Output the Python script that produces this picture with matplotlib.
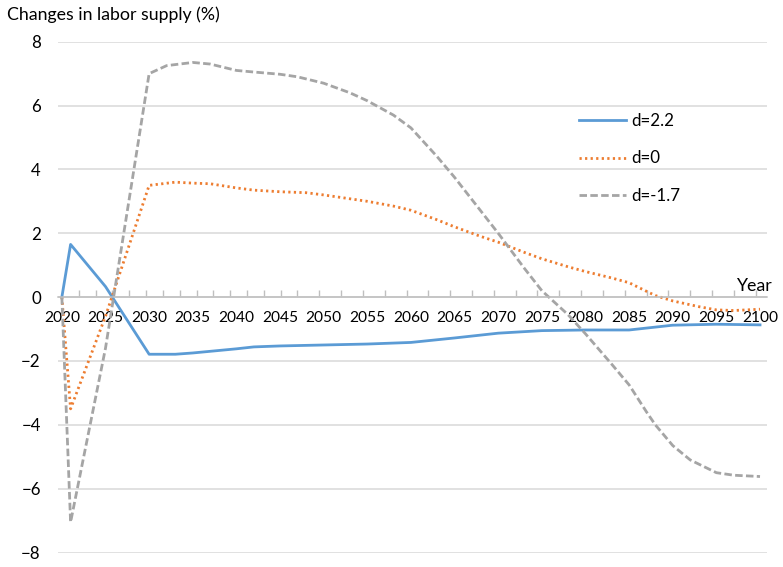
import matplotlib
matplotlib.use("Agg")
import matplotlib.pyplot as plt
import numpy as np

plt.rcParams['font.family'] = ['Lato', 'DejaVu Sans']

# d=2.2
years_a = [2020, 2021, 2025, 2030, 2033, 2035, 2040, 2042, 2045, 2050, 2055, 2060,
           2065, 2070, 2075, 2080, 2085, 2090, 2095, 2100]
vals_a = [0, 1.65, 0.33, -1.79, -1.79, -1.75, -1.62, -1.56, -1.53, -1.50, -1.47, -1.42,
          -1.28, -1.13, -1.05, -1.03, -1.03, -0.88, -0.85, -0.87]

# d=0
years_b = [2020, 2021, 2025, 2030, 2033, 2035, 2037, 2040, 2042, 2045, 2048, 2050, 2053,
           2055, 2058, 2060, 2063, 2065, 2068, 2070, 2073, 2075, 2078, 2080, 2083, 2085,
           2087, 2088, 2090, 2093, 2095, 2097, 2100]
vals_b = [0, -3.5, -0.6, 3.5, 3.6, 3.57, 3.55, 3.42, 3.35, 3.3, 3.27, 3.2, 3.08,
          3.0, 2.85, 2.72, 2.42, 2.2, 1.9, 1.72, 1.4, 1.2, 0.95, 0.8, 0.6, 0.45,
          0.18, 0.05, -0.12, -0.3, -0.4, -0.42, -0.38]

# d=-1.7
years_c = [2020, 2021, 2025, 2030, 2032, 2035, 2037, 2040, 2042, 2045, 2047, 2050, 2053,
           2055, 2058, 2060, 2063, 2065, 2068, 2070, 2073, 2075, 2078, 2080, 2083, 2085,
           2087, 2088, 2090, 2092, 2095, 2097, 2100]
vals_c = [0, -7.05, -1.6, 7.0, 7.25, 7.35, 7.3, 7.1, 7.05, 6.98, 6.9, 6.7, 6.4,
          6.15, 5.7, 5.3, 4.4, 3.75, 2.7, 2.0, 0.9, 0.2, -0.55, -1.15, -2.1, -2.75,
          -3.6, -4.0, -4.65, -5.1, -5.5, -5.58, -5.62]

labels = ['d=2.2', 'd=0', 'd=-1.7']

fig = plt.figure(figsize=(7.83, 5.67), dpi=100)
ax = fig.add_axes([57.5/783, 1-552.5/567, (767-57.5)/783, (552.5-41.7)/567])

ax.plot(years_a, vals_a, color='#5B9BD5', lw=2.0, label=labels[0])
ax.plot(years_b, vals_b, color='#ED7D31', lw=2.0, linestyle=(0, (0.8, 1.2)), label=labels[1])
ax.plot(years_c, vals_c, color='#A5A5A5', lw=2.0, linestyle=(0, (2.7, 1.2)), label=labels[2])

ax.set_xlim(2019.5, 2100.8)
ax.set_ylim(-8, 8)
ax.set_yticks(np.arange(-8, 9, 2))
ax.yaxis.grid(True, color='#D9D9D9', lw=1.1)
ax.set_axisbelow(True)

for s in ['left', 'right', 'top']:
    ax.spines[s].set_visible(False)
ax.spines['bottom'].set_position(('data', 0))
ax.spines['bottom'].set_color('#BFBFBF')
ax.spines['bottom'].set_linewidth(1.1)

fs = 12.8
ax.set_xticks(np.arange(2020, 2101, 5))
ax.set_xticks(np.concatenate([np.linspace(2020, 2047, 15), np.arange(2049.5, 2100, 2.5)]), minor=True)
ax.tick_params(axis='x', which='major', length=0, pad=10, labelsize=11.2, colors='#000000')
ax.tick_params(axis='x', which='minor', direction='in', length=5, width=1, color='#BFBFBF')
ax.tick_params(axis='y', length=0, pad=12, labelsize=12.2)

fig.text(7/783, 1-15/567, 'Changes in labor supply (%)', fontsize=fs, va='center', ha='left')
fig.text(772/783, 1-286/567, 'Year', fontsize=fs, va='center', ha='right')

ax.legend(frameon=False, loc='upper left', bbox_to_anchor=(564/783, 1-98/567),
          bbox_transform=fig.transFigure, fontsize=12.2, handlelength=2.75,
          handletextpad=0.3, labelspacing=1.25)

fig.savefig('out.png', dpi=100)
